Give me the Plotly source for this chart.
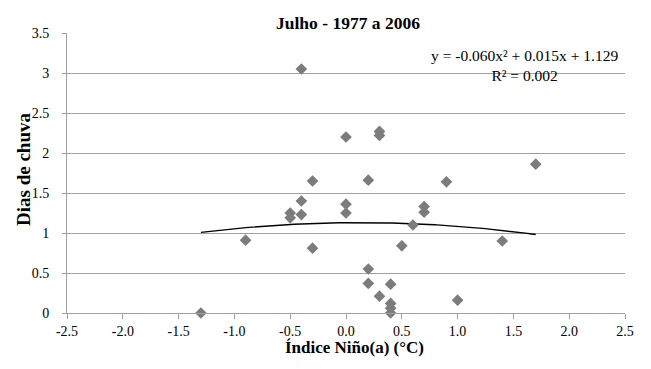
import numpy as np
import plotly.graph_objects as go

# ---- data ----
nino_index = [-1.3, -0.9, -0.5, -0.5, -0.4, -0.4, -0.4, -0.3, -0.3,
              0.0, 0.0, 0.0, 0.2, 0.2, 0.2, 0.3, 0.3, 0.3,
              0.4, 0.4, 0.4, 0.4, 0.5, 0.6, 0.7, 0.7, 0.9, 1.0, 1.4, 1.7]
rain_days = [0.00, 0.91, 1.25, 1.19, 3.05, 1.40, 1.23, 1.65, 0.81,
             2.20, 1.36, 1.25, 1.66, 0.55, 0.37, 2.27, 2.22, 0.21,
             0.36, 0.12, 0.06, 0.00, 0.84, 1.10, 1.33, 1.26, 1.64, 0.16, 0.90, 1.86]
trend_coefs = [-0.060, 0.015, 1.129]   # y = a x^2 + b x + c
r_squared = 0.002
x_tick_vals = [-2.5, -2.0, -1.5, -1.0, -0.5, 0.0, 0.5, 1.0, 1.5, 2.0, 2.5]
x_tick_text = [f"{v:.1f}" for v in x_tick_vals]
y_tick_vals = [0, 0.5, 1, 1.5, 2, 2.5, 3, 3.5]
y_tick_text = ["0", "0.5", "1", "1.5", "2", "2.5", "3", "3.5"]
title_text = "Julho - 1977 a 2006"
x_title = "Índice Niño(a) (°C)"
y_title = "Dias de chuva"

# ---- layout constants ----
W, H = 651, 369
ML, MR, MT, MB = 67, 26, 33, 56
FONT = "Liberation Serif, Tinos, Times New Roman, DejaVu Serif, serif"
GRID = "#a0a0a0"
MARK = "#7c7c7c"

px0, px1 = ML, W - MR
py0, py1 = MT, H - MB


def fx(px):
    return (px - px0) / (px1 - px0)


def fy(py):
    return (py1 - py) / (py1 - py0)


trend_x = np.linspace(min(nino_index), max(nino_index), 120)
trend_y = np.polyval(trend_coefs, trend_x)

fig = go.Figure()
fig.add_trace(go.Scatter(
    x=trend_x, y=trend_y, mode="lines",
    line=dict(color="black", width=1.4), hoverinfo="skip", showlegend=False))
fig.add_trace(go.Scatter(
    x=nino_index, y=rain_days, mode="markers",
    marker=dict(symbol="diamond", size=9, color=MARK, line=dict(width=0)),
    cliponaxis=False, showlegend=False))

a, b, c = trend_coefs
eq_text = f"y = {a:.3f}x² + {b:.3f}x + {c:.3f}"
r2_text = f"R² = {r_squared:.3f}"

annotations = [
    dict(text=f"<b>{title_text}</b>", x=fx(348), y=fy(23), xref="paper", yref="paper",
         xanchor="center", yanchor="middle", showarrow=False,
         font=dict(family=FONT, size=17.5, color="black")),
    dict(text=f"{eq_text}<br>{r2_text}", x=fx(524), y=fy(65), xref="paper", yref="paper",
         xanchor="center", yanchor="middle", align="center", showarrow=False,
         font=dict(family=FONT, size=15.5, color="black")),
    dict(text=f"<b>{x_title}</b>", x=fx(354), y=fy(347), xref="paper", yref="paper",
         xanchor="center", yanchor="middle", showarrow=False,
         font=dict(family=FONT, size=17, color="black")),
    dict(text=f"<b>{y_title}</b>", x=fx(23), y=fy(170), xref="paper", yref="paper",
         xanchor="center", yanchor="middle", showarrow=False, textangle=-90,
         font=dict(family=FONT, size=19, color="black")),
]

fig.update_layout(
    width=W, height=H,
    margin=dict(l=ML, r=MR, t=MT, b=MB, pad=0),
    paper_bgcolor="white", plot_bgcolor="white",
    font=dict(family=FONT, size=14, color="black"),
    annotations=annotations,
    showlegend=False,
)
fig.update_xaxes(
    range=[-2.5, 2.5], tickmode="array", tickvals=x_tick_vals, ticktext=x_tick_text,
    showgrid=False, zeroline=False, showline=True, linecolor=GRID, linewidth=1,
    ticks="outside", ticklen=5, tickcolor=GRID, tickwidth=1,
    tickfont=dict(family=FONT, size=14, color="black"), fixedrange=True)
fig.update_yaxes(
    range=[0, 3.5], tickmode="array", tickvals=y_tick_vals, ticktext=y_tick_text,
    showgrid=True, gridcolor=GRID, gridwidth=1, zeroline=False,
    showline=True, linecolor=GRID, linewidth=1,
    ticks="outside", ticklen=4, tickcolor=GRID, tickwidth=1,
    ticklabelstandoff=10,
    tickfont=dict(family=FONT, size=14, color="black"), fixedrange=True)

fig.write_html("out.html",
               config={"displayModeBar": False},
               post_script="document.body.style.margin='0';document.body.style.overflow='hidden';")
